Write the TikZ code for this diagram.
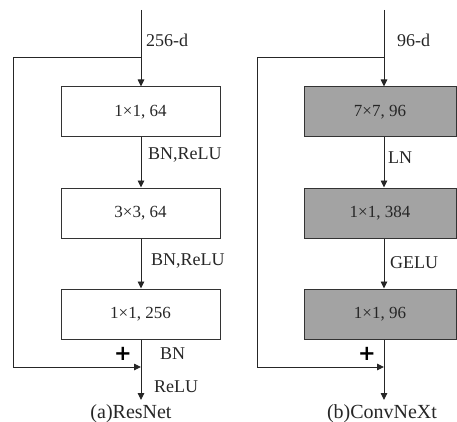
\documentclass[tikz,border=0pt]{standalone}
\usepackage{fontspec}
\setmainfont{Liberation Serif}
\newfontfamily\plusfont{DejaVu Sans}
\usetikzlibrary{arrows.meta}
\begin{document}
\begin{tikzpicture}[x=1pt,y=-1pt,
  line/.style={line width=0.9pt,draw=black!85},
  arr/.style={line, -{Triangle[length=7pt,width=6.5pt]}},
  boxa/.style={draw=black!80,line width=1pt,minimum width=159pt,minimum height=50pt,inner sep=0pt,font=\fontsize{17}{19}\selectfont,text=black!85},
  boxb/.style={boxa,fill=black!36,minimum width=152pt},
  lab/.style={anchor=west,inner sep=0pt,font=\fontsize{18}{20}\selectfont,text=black!85},
  captxt/.style={inner sep=0pt,font=\fontsize{20}{22}\selectfont,text=black!85},
  plus/.style={inner sep=0pt,font=\plusfont\fontsize{21}{21}\selectfont\bfseries}]
\useasboundingbox (0,0) rectangle (457,422);
% ---- (a) ResNet
\coordinate (at) at (141,10);
\coordinate (as) at (141,57);
\coordinate (al) at (13,57);
\node[boxa] (a1) at (140.5,112) {1×1, 64};
\node[boxa] (a2) at (140.5,213) {3×3, 64};
\node[boxa] (a3) at (140.5,314) {1×1, 256};
\coordinate (am) at (141,367);
\coordinate (aml) at (13,367);
\coordinate (ae) at (141,400);
\draw[arr] (at) -- (a1.north -| at);
\draw[arr] (a1.south -| at) -- (a2.north -| at);
\draw[arr] (a2.south -| at) -- (a3.north -| at);
\draw[arr] (a3.south -| at) -- (ae);
\draw[line] (as) -- (al) -- (aml);
\draw[arr] (aml) -- (am);
\node[lab] (la0) at (146,40) {256-d};
\node[lab] (la1) at (148,155) {BN,ReLU};
\node[lab] (la2) at (151,261) {BN,ReLU};
\node[lab] (la3) at (160,354) {BN};
\node[lab] (la4) at (154,387) {ReLU};
\node[plus] (pa) at (123,354) {+};
\node[captxt] (ca) at (131,414) {(a)ResNet};
% ---- (b) ConvNeXt
\coordinate (bt) at (384,10);
\coordinate (bs) at (384,57);
\coordinate (bl) at (257,57);
\node[boxb] (b1) at (380,112) {7×7, 96};
\node[boxb] (b2) at (380,213) {1×1, 384};
\node[boxb] (b3) at (380,314) {1×1, 96};
\coordinate (bm) at (384,367);
\coordinate (bml) at (257,367);
\coordinate (be) at (384,400);
\draw[arr] (bt) -- (b1.north -| bt);
\draw[arr] (b1.south -| bt) -- (b2.north -| bt);
\draw[arr] (b2.south -| bt) -- (b3.north -| bt);
\draw[arr] (b3.south -| bt) -- (be);
\draw[line] (bs) -- (bl) -- (bml);
\draw[arr] (bml) -- (bm);
\node[lab] (lb0) at (397,40) {96-d};
\node[lab] (lb1) at (388,158) {LN};
\node[lab] (lb2) at (390,263) {GELU};
\node[plus] (pb) at (367,354) {+};
\node[captxt] (cb) at (382,414) {(b)ConvNeXt};
\end{tikzpicture}
\end{document}
